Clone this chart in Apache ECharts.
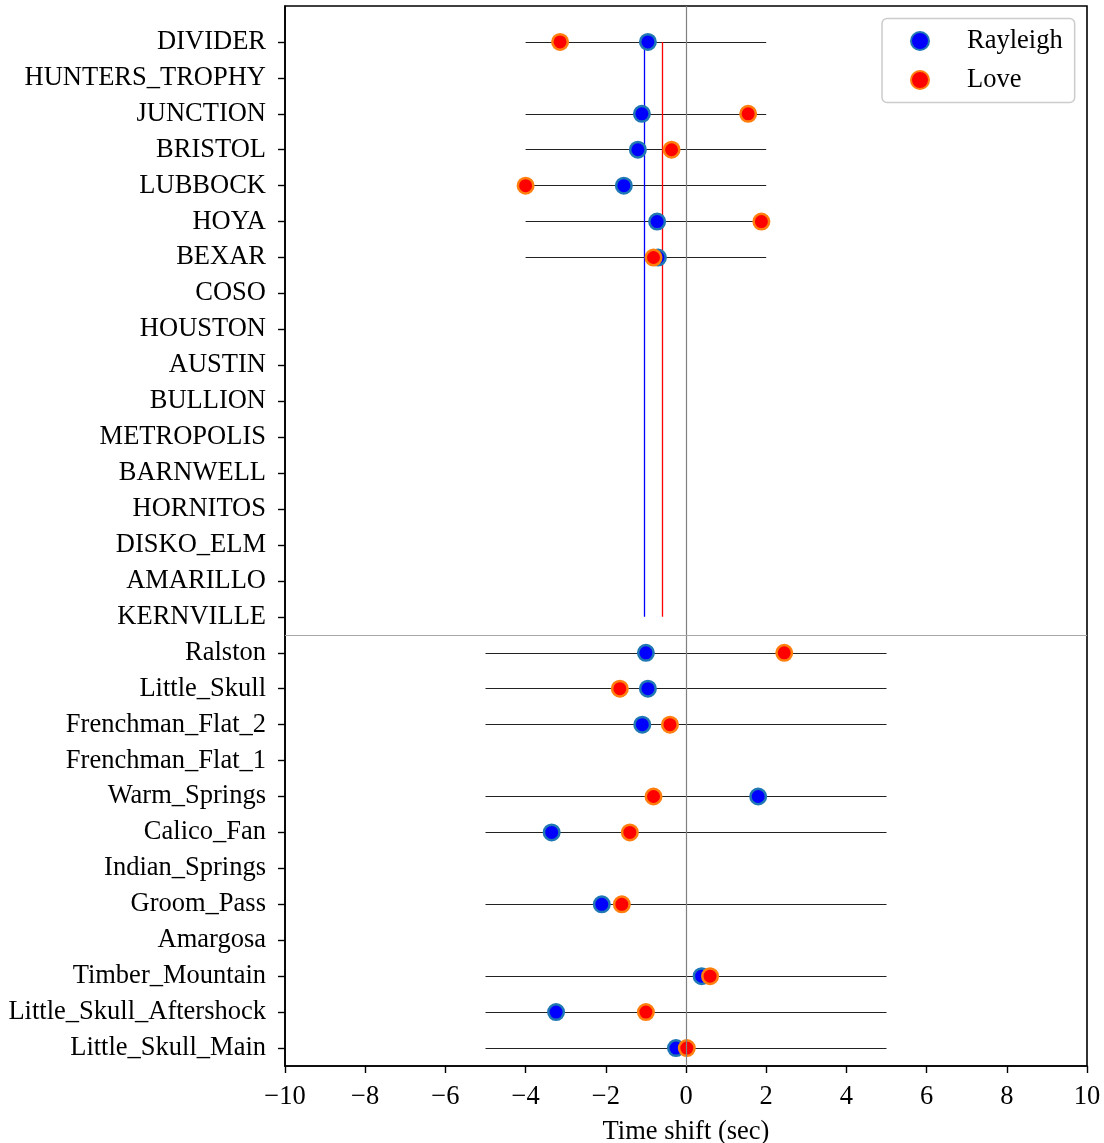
<!DOCTYPE html>
<html>
<head>
<meta charset="utf-8">
<script src="https://cdn.jsdelivr.net/npm/echarts@6/dist/echarts.min.js"></script>
<style>html,body{margin:0;padding:0;background:#fff}#c{width:1104px;height:1143px}</style>
</head>
<body>
<div id="c"></div>
<script>
const stations = ['DIVIDER','HUNTERS_TROPHY','JUNCTION','BRISTOL','LUBBOCK','HOYA','BEXAR','COSO','HOUSTON','AUSTIN','BULLION','METROPOLIS','BARNWELL','HORNITOS','DISKO_ELM','AMARILLO','KERNVILLE','Ralston','Little_Skull','Frenchman_Flat_2','Frenchman_Flat_1','Warm_Springs','Calico_Fan','Indian_Springs','Groom_Pass','Amargosa','Timber_Mountain','Little_Skull_Aftershock','Little_Skull_Main'];
const rayleigh = [-0.95,null,-1.10,-1.20,-1.55,-0.72,-0.70,null,null,null,null,null,null,null,null,null,null,-1.00,-0.95,-1.09,null,1.80,-3.35,null,-2.10,null,0.39,-3.24,-0.25];
const love = [-3.14,null,1.55,-0.36,-4.00,1.88,-0.81,null,null,null,null,null,null,null,null,null,null,2.45,-1.65,-0.40,null,-0.81,-1.40,null,-1.60,null,0.60,-1.00,0.02];
const windowTop = [-4, 2];
const windowBottom = [-5, 5];
const firstBottomIndex = 17;
const meanRayleighTop = -1.03;
const meanLoveTop = -0.59;
const xTicks = [-10,-8,-6,-4,-2,0,2,4,6,8,10];

const FONT = 'Liberation Serif';
const idx = stations.map((s,i)=>i);

const segs = [];
idx.forEach(i=>{
  if (rayleigh[i]===null && love[i]===null) return;
  const w = i < firstBottomIndex ? windowTop : windowBottom;
  segs.push({coords:[[w[0], i],[w[1], i]]});
});
const rData = idx.filter(i=>rayleigh[i]!==null).map(i=>[rayleigh[i], i]);
const lData = idx.filter(i=>love[i]!==null).map(i=>[love[i], i]);

const chart = echarts.init(document.getElementById('c'), null, {renderer:'canvas'});
chart.setOption({
  animation:false,
  backgroundColor:'#fff',
  grid:{left:285, right:17, top:6, bottom:77, outerBoundsMode:'none', containLabel:false,
        show:true, borderColor:'#000', borderWidth:1.6, backgroundColor:'transparent'},
  legend:{
    left:882, top:18.5,
    orient:'vertical',
    data:['Rayleigh','Love'],
    backgroundColor:'#fff',
    borderColor:'#cccccc', borderWidth:1.5, borderRadius:5,
    padding:[9,12,9,28],
    itemWidth:18, itemHeight:18, itemGap:12,
    textStyle:{fontFamily:FONT, fontSize:26.5, color:'#000', lineHeight:26, padding:[0,0,0,33]}
  },
  xAxis:{
    type:'value', min:-10, max:10, interval:2,
    axisLine:{show:true, onZero:false, lineStyle:{color:'#000', width:1.6}},
    axisTick:{show:true, length:7, lineStyle:{color:'#000', width:1.4}},
    axisLabel:{fontFamily:FONT, fontSize:26.5, color:'#000', margin:18,
      formatter:v=> v<0 ? '\u2212'+Math.abs(v) : String(v)},
    splitLine:{show:false},
    name:'Time shift (sec)', nameLocation:'middle', nameGap:53,
    nameTextStyle:{fontFamily:FONT, fontSize:26.5, color:'#000'}
  },
  yAxis:{
    type:'value', min:-1, max:28.5, inverse:true,
    axisLine:{show:true, onZero:false, lineStyle:{color:'#000', width:1.6}},
    axisTick:{show:true, length:7, customValues:idx, lineStyle:{color:'#000', width:1.4}},
    axisLabel:{fontFamily:FONT, fontSize:26.5, color:'#000', margin:19, customValues:idx,
      padding:[4,0,0,0],
      formatter:v=> stations[Math.round(v)] || ''},
    splitLine:{show:false}
  },
  series:[
    {type:'lines', coordinateSystem:'cartesian2d', z:1, silent:true,
     lineStyle:{color:'#222', width:1.2, opacity:1},
     data:segs,
     markLine:{silent:true, symbol:'none', label:{show:false},
       data:[
         {xAxis:0, lineStyle:{color:'#808080', width:1.2, type:'solid'}},
         {yAxis:firstBottomIndex-0.5, lineStyle:{color:'#a8a8a8', width:1.2, type:'solid'}}
       ]}
    },
    {type:'lines', coordinateSystem:'cartesian2d', z:2, silent:true,
     data:[
       {coords:[[meanRayleighTop,0],[meanRayleighTop,firstBottomIndex-1]], lineStyle:{color:'#0000ff', width:1.3, opacity:1}},
       {coords:[[meanLoveTop,0],[meanLoveTop,firstBottomIndex-1]], lineStyle:{color:'#ff0000', width:1.3, opacity:1}}
     ]},
    {name:'Rayleigh', type:'scatter', z:3, symbol:'circle', symbolSize:15.5,
     itemStyle:{color:'#0000ff', borderColor:'#1f77b4', borderWidth:2.5, opacity:1},
     data:rData},
    {name:'Love', type:'scatter', z:4, symbol:'circle', symbolSize:15.5,
     itemStyle:{color:'#ff0000', borderColor:'#ff7f0e', borderWidth:2.5, opacity:1},
     data:lData}
  ]
});
</script>
</body>
</html>
